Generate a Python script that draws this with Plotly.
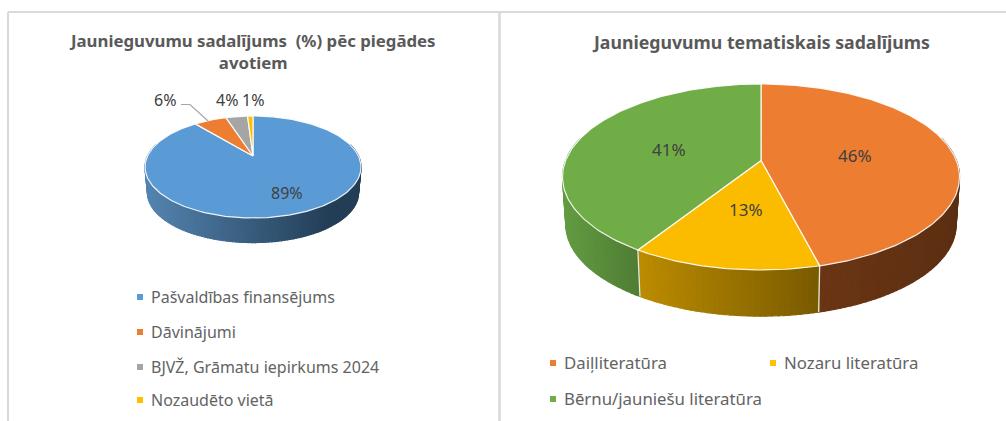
import math
import plotly.graph_objects as go

# ---- data ----
left_title = "Jaunieguvumu sadalījums  (%) pēc piegādes<br>avotiem"
left_labels = ["Pašvaldības finansējums", "Dāvinājumi", "BJVŽ, Grāmatu iepirkums 2024", "Nozaudēto vietā"]
left_values = [89, 6, 4, 1]
right_title = "Jaunieguvumu tematiskais sadalījums"
right_labels = ["Daiļliteratūra", "Nozaru literatūra", "Bērnu/jauniešu literatūra"]
right_values = [46, 13, 41]

# ---- styles ----
C_BLUE, C_ORANGE, C_GRAY, C_YELLOW, C_GREEN = "#5b9bd5", "#ed7d31", "#a5a5a5", "#ffc000", "#70ad47"
FONT = "Noto Sans"
TITLE_C, LEGEND_C, LABEL_C, FRAME_C = "#595959", "#636363", "#404040", "#d9d9d9"

fig = go.Figure()


def mix(c0, c1, t):
    t = max(0.0, min(1.0, t))
    return "rgb(%d,%d,%d)" % tuple(round(a + (b - a) * t) for a, b in zip(c0, c1))


def draw_pie(values, colors, side_ramps, ax, ay, rx, top, bottom, shift, shrink):
    """A perspective pie: true slice angles pushed through a projective map of the disc."""
    up, down = ay - top, bottom - ay
    k = (down - up) / (down + up)
    a = up * (1 + k)
    b = rx * math.sqrt(1 - k * k)

    def rim(theta, s=1.0, dy=0.0):
        u, v = math.sin(theta), math.cos(theta)
        d = 1 + k * v
        return ax + s * b * u / d, ay + dy - s * a * v / d

    total = sum(values)
    edges = [0.0]
    for val in values:
        edges.append(edges[-1] + val / total * 2 * math.pi)

    # side wall strips
    for i, val in enumerate(values):
        t0, t1 = edges[i], edges[i + 1]
        ramp = side_ramps[i]
        n = max(2, int(val * 2.5))
        for j in range(n):
            s0 = t0 + (t1 - t0) * j / n
            s1 = t0 + (t1 - t0) * (j + 1) / n
            if math.cos((s0 + s1) / 2) > 0.25:
                continue
            xs, ys = [], []
            for q in range(4):
                p = rim(s0 + (s1 - s0) * q / 3)
                xs.append(p[0]); ys.append(p[1])
            for q in range(3, -1, -1):
                p = rim(s0 + (s1 - s0) * q / 3, shrink, shift)
                xs.append(p[0]); ys.append(p[1])
            xs.append(xs[0]); ys.append(ys[0])
            fx = (rim((s0 + s1) / 2)[0] - ramp[0]) / (ramp[1] - ramp[0])
            col = mix(ramp[2], ramp[3], fx)
            fig.add_trace(go.Scatter(x=xs, y=ys, mode="lines", fill="toself", fillcolor=col,
                                     line=dict(color=col, width=1.2), hoverinfo="skip", showlegend=False))
    # white seams on the wall
    for e in edges[:-1]:
        if math.cos(e) < -0.1:
            p0, p1 = rim(e), rim(e, shrink, shift)
            fig.add_trace(go.Scatter(x=[p0[0], p1[0]], y=[p0[1], p1[1]], mode="lines",
                                     line=dict(color="rgba(255,255,255,0.85)", width=1.3),
                                     hoverinfo="skip", showlegend=False))
    # top face
    for i, val in enumerate(values):
        t0, t1 = edges[i], edges[i + 1]
        n = max(3, int(val * 3))
        xs, ys = [ax], [ay]
        for j in range(n + 1):
            p = rim(t0 + (t1 - t0) * j / n)
            xs.append(p[0]); ys.append(p[1])
        xs.append(ax); ys.append(ay)
        fig.add_trace(go.Scatter(x=xs, y=ys, mode="lines", fill="toself", fillcolor=colors[i],
                                 line=dict(color="rgba(255,255,255,0.9)", width=1.2),
                                 hoverinfo="skip", showlegend=False))


draw_pie(left_values, [C_BLUE, C_ORANGE, C_GRAY, C_YELLOW],
         [(145, 330, (84, 132, 176), (35, 62, 86)), (0, 1, (0, 0, 0), (0, 0, 0)),
          (0, 1, (0, 0, 0), (0, 0, 0)), (0, 1, (0, 0, 0), (0, 0, 0))],
         ax=253, ay=156, rx=108, top=116, bottom=218, shift=26, shrink=0.977)
draw_pie(right_values, [C_ORANGE, "#fbbc00", C_GREEN],
         [(820, 960, (106, 53, 20), (92, 47, 18)), (637, 820, (188, 140, 0), (120, 90, 0)),
          (563, 637, (98, 155, 66), (80, 125, 52))],
         ax=761, ay=160.5, rx=198.5, top=84, bottom=270, shift=48, shrink=0.983)

# leader line of the 6% label
fig.add_trace(go.Scatter(x=[181, 190, 208], y=[104.5, 104.5, 121], mode="lines",
                         line=dict(color="#a6a6a6", width=1.2), hoverinfo="skip", showlegend=False))

# legend swatches
left_legend_y = [297, 332, 367, 400]
right_legend_xy = [(553, 363), (773, 363), (553, 399)]
fig.add_trace(go.Scatter(x=[140] * 4, y=left_legend_y, mode="markers", hoverinfo="skip", showlegend=False,
                         marker=dict(symbol="square", size=6, color=[C_BLUE, C_ORANGE, C_GRAY, C_YELLOW])))
fig.add_trace(go.Scatter(x=[p[0] for p in right_legend_xy], y=[p[1] for p in right_legend_xy],
                         mode="markers", hoverinfo="skip", showlegend=False,
                         marker=dict(symbol="square", size=6, color=[C_ORANGE, C_YELLOW, C_GREEN])))

ann = []


def text(x, y, s, size, color, anchor="left", bold=False):
    ann.append(dict(x=x, y=y, text="<b>%s</b>" % s if bold else s, showarrow=False, xanchor=anchor,
                    yanchor="middle", font=dict(family=FONT, size=size, color=color), align="center"))


text(252, 51, left_title, 16.8, TITLE_C, "center", True)
text(761, 42, right_title, 17.7, TITLE_C, "center", True)
for lab, y in zip(left_labels, left_legend_y):
    text(149, y, lab, 16, LEGEND_C)
for lab, (x, y) in zip(right_labels, right_legend_xy):
    text(x + 9, y - 1, lab, 16.8, LEGEND_C)
for val, (x, y) in zip(left_values, [(287, 193), (165, 100), (227, 100), (253, 100)]):
    text(x, y, "%d%%" % val, 16, LABEL_C, "center")
for val, (x, y) in zip(right_values, [(855, 155), (746, 209), (669, 149)]):
    text(x, y, "%d%%" % val, 17, LABEL_C, "center")

shapes = [
    dict(type="line", x0=8, x1=8, y0=12, y1=421, line=dict(color=FRAME_C, width=2)),
    dict(type="line", x0=8, x1=1006, y0=12, y1=12, line=dict(color=FRAME_C, width=2)),
    dict(type="line", x0=499.5, x1=499.5, y0=12, y1=421, line=dict(color=FRAME_C, width=2.5)),
]

fig.update_layout(
    width=1006, height=421, margin=dict(l=0, r=0, t=0, b=0),
    paper_bgcolor="white", plot_bgcolor="white", showlegend=False,
    xaxis=dict(range=[0, 1006], visible=False, fixedrange=True),
    yaxis=dict(range=[421, 0], visible=False, fixedrange=True),
    annotations=ann, shapes=shapes,
)
fig.write_html("out.html", config={"displayModeBar": False}, default_width="1006px", default_height="421px",
               post_script="document.body.style.margin='0';document.body.style.overflow='hidden';")
